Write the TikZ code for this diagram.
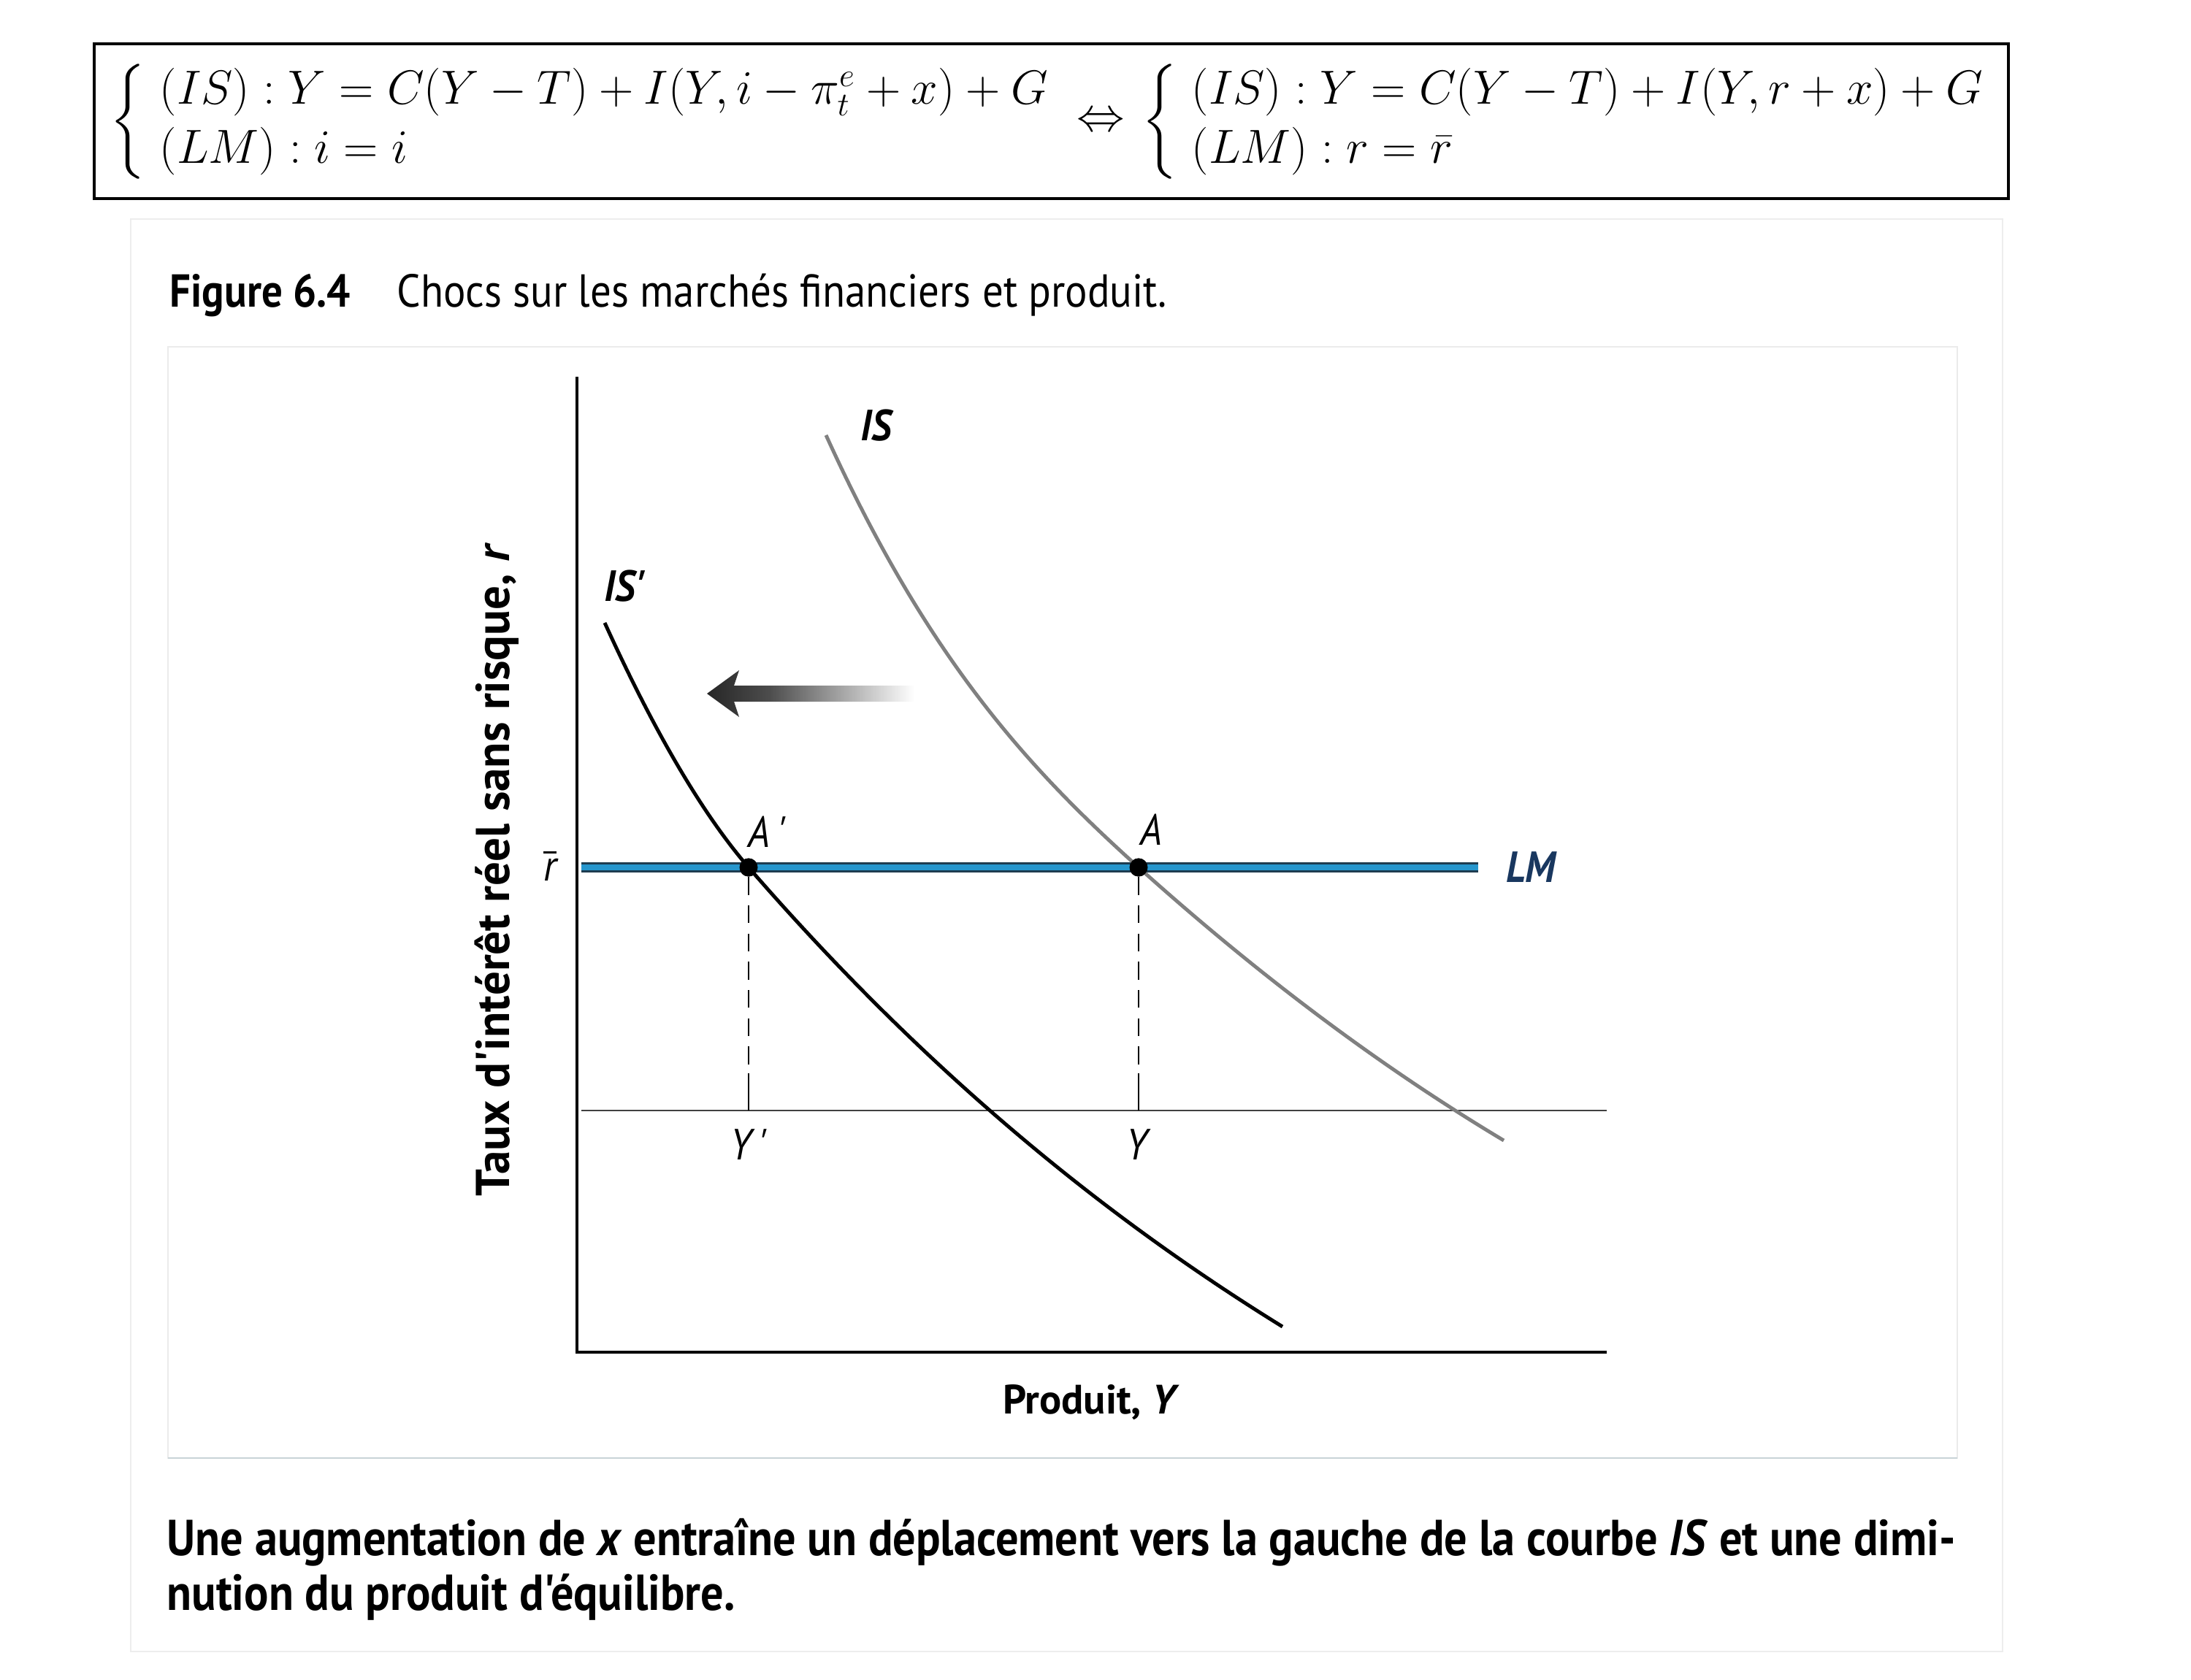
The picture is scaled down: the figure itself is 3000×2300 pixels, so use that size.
\documentclass[tikz,border=0pt]{standalone}
\usepackage[no-math]{fontspec}
\usepackage{amsmath}
\usepackage{graphicx}
\newfontfamily\capfont[FakeStretch=0.9]{PT Sans}
\newfontfamily\plotfont[FakeStretch=0.9]{PT Sans}
\newfontfamily\axisfont{PT Sans}
\definecolor{lmblue}{RGB}{38,150,205}
\definecolor{lmdark}{RGB}{30,60,80}
\definecolor{lmtext}{RGB}{25,55,95}
\pgfdeclarehorizontalshading{fadeshift}{100bp}{color(0bp)=(black!85); color(25bp)=(black!85); color(40bp)=(black!70); color(75bp)=(white); color(100bp)=(white)}

\begin{document}
\begin{tikzpicture}[x=0.1mm, y=-0.1mm,
    eq/.style={inner sep=0pt, font=\fontsize{17.28}{21.3}\selectfont},
    lab/.style={inner sep=0pt, font=\plotfont\fontsize{17}{20}\selectfont\itshape},
    curvelab/.style={inner sep=0pt, font=\plotfont\fontsize{17}{20}\selectfont\bfseries\itshape},
    axistitle/.style={inner sep=0pt, font=\axisfont\fontsize{18.5}{22}\selectfont\bfseries},
    captext/.style={anchor=base west, inner sep=0pt, font=\capfont\fontsize{18}{22}\selectfont},
    notetext/.style={anchor=base west, inner sep=0pt, font=\capfont\fontsize{19.7}{24}\selectfont\bfseries},
    dot/.style={circle, fill=black, inner sep=0pt, minimum size=2.5mm},
    guide/.style={line width=0.5pt, dash pattern=on 7pt off 4pt}]
    \useasboundingbox (0,0) rectangle (3000,2300);

    % Equations
    \draw[line width=0.9pt] (129,60) rectangle (2750,272);
    \node[eq, anchor=west] (sysl) at (150,167)
        {\scalebox{1.08}{$\left\{\begin{array}{l}(IS):Y=C(Y-T)+I(Y,i-\pi_t^e+x)+G\\(LM):i=i\end{array}\right.$}};
    \node[eq] (equiv) at (1507,167) {\scalebox{1.08}{$\Leftrightarrow$}};
    \node[eq, anchor=west] (sysr) at (1563,167)
        {\scalebox{1.08}{$\left\{\begin{array}{l}(IS):Y=C(Y-T)+I(Y,r+x)+G\\(LM):r=\bar{r}\end{array}\right.$}};

    % Page frames
    \draw[black!7, line width=0.6pt] (179,300) rectangle (2742,2262);
    \draw[black!8, line width=0.6pt] (230,475) rectangle (2680,1997);
    \draw[cyan!30!black!25, line width=0.8pt] (230,1997) -- (2680,1997);

    % Caption
    \node[captext] (figno) at (232,420) {\bfseries Figure 6.4};
    \node[captext] (figtitle) at (543,420) {Chocs sur les marchés financiers et produit.};

    % Axes
    \coordinate (O) at (790,1852);
    \coordinate (ytop) at (790,516);
    \coordinate (xend) at (2200,1852);
    \draw[line width=1.1pt] (ytop) -- (O) -- (xend);
    \node[axistitle, rotate=90] (ytitle) at (680,1191) {Taux d'intérêt réel sans risque, \textit{r}};
    \node[axistitle, font=\axisfont\fontsize{16}{19}\selectfont\bfseries] (xtitle) at (1494,1921) {Produit, \textit{Y}};

    % Output line
    \coordinate (bl) at (796,1521);
    \coordinate (br) at (2200,1521);
    \draw[black!75, line width=0.6pt] (bl) -- (br);

    % Equilibria and guides
    \node[dot] (Ap) at (1025,1188) {};
    \node[dot] (A) at (1559,1188) {};
    \draw[guide] (Ap) -- (1025,1470) coordinate (Apg);
    \draw[line width=0.5pt] (Apg) -- (Ap |- bl);
    \draw[guide] (A) -- (1559,1470) coordinate (Ag);
    \draw[line width=0.5pt] (Ag) -- (A |- bl);
    \node[lab] (Yp) at (1025,1568) {Y\,'};
    \node[lab] (Y) at (1557,1568) {Y};

    % LM
    \coordinate (LMl) at (796,1188);
    \coordinate (LMr) at (2024,1188);
    \draw[lmdark, line width=3.8pt] (LMl) -- (LMr);
    \draw[lmblue, line width=2.2pt] (LMl) -- (LMr);
    \node[curvelab, text=lmtext] (LM) at (2096,1188) {LM};
    \node[lab] (rbar) at (753,1185) {$\overline{\mbox{\plotfont\itshape r}}$};

    % IS (before) and IS' (after)
    \draw[black!50, line width=1.4pt] (1131,596) .. controls (1274,911) and (1416,1059) .. (A.center)
        .. controls (1726,1338) and (1892,1462) .. (2059,1562);
    \draw[black, line width=1.4pt] (828,853) .. controls (893,996) and (960,1113) .. (Ap.center)
        .. controls (1269,1469) and (1512,1666) .. (1756,1817);
    \node[dot] at (Ap) {};
    \node[dot] at (A) {};
    \node[curvelab] (ISlab) at (1200,583) {IS};
    \node[curvelab] (ISplab) at (855,803) {IS'};
    \node[lab] (Aplab) at (1050,1139) {A\,'};
    \node[lab] (Alab) at (1576,1136) {A};

    % Shift arrow
    \shade[shading=fadeshift] (968,950) -- (1012,918) -- (1005,939) -- (1252,939)
        -- (1252,961) -- (1005,961) -- (1012,982) -- cycle;

    % Note
    \node[notetext] (note1) at (228,2130) {Une augmentation de \textit{x} entraîne un déplacement vers la gauche de la courbe \textit{IS} et une dimi-};
    \node[notetext] (note2) at (228,2205) {nution du produit d'équilibre.};
\end{tikzpicture}
\end{document}
